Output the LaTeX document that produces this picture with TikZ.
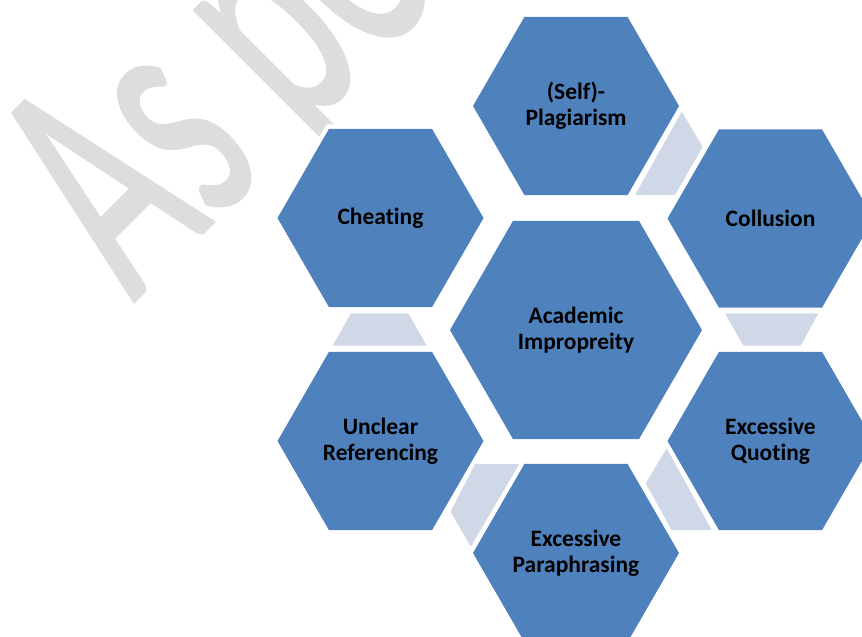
\documentclass[tikz,border=0pt]{standalone}
\usepackage{fontspec}
\setmainfont{Carlito}[Ligatures=NoCommon,Contextuals=NoAlternate]
\newfontfamily\wmfont{Carlito}[FakeBold=1.2]
\usepackage{graphicx}
\definecolor{hexblue}{RGB}{79,129,189}
\definecolor{conn}{RGB}{208,216,232}
\definecolor{wmgray}{RGB}{221,221,221}
\newcommand\myhex[3]{\fill[#3] (#1) +(0:#2) -- +(60:#2) -- +(120:#2) -- +(180:#2) -- +(240:#2) -- +(300:#2) -- cycle;}
\begin{document}
\begin{tikzpicture}[x=1pt,y=-1pt,
  lbl/.style={font=\fontsize{23.5}{26}\selectfont\bfseries, align=center, text=black, inner sep=0pt},
  hexfill/.style={fill=hexblue},
  gapfill/.style={fill=white},
  arrowfill/.style={fill=conn}]
\useasboundingbox (0,0) rectangle (862,637);
\clip (0,0) rectangle (862,637);
% watermark
\node[rotate=45, anchor=base west, inner sep=0pt, text=wmgray, font=\wmfont\fontsize{340}{340}\selectfont] (wm) at (133,302) {\scalebox{0.58}[1]{As per}};
% centres
\coordinate (cC) at (576,330);
\coordinate (cP) at (576,106);
\coordinate (cCo) at (770.5,218.5);
\coordinate (cQ) at (770.5,441);
\coordinate (cPa) at (576,553);
\coordinate (cU) at (380.5,441);
\coordinate (cCh) at (380.5,218);
% white rims
\myhex{cC}{131}{gapfill}
\myhex{cP}{108}{gapfill}
\myhex{cCo}{108}{gapfill}
\myhex{cQ}{108}{gapfill}
\myhex{cPa}{108}{gapfill}
\myhex{cU}{108}{gapfill}
\myhex{cCh}{108}{gapfill}
% connector shapes
\fill[arrowfill] (681.7,111.7) -- (702.7,146.7) -- (675,195) -- (635,195) -- cycle;
\fill[arrowfill] (725,313.3) -- (818.3,313.3) -- (800.7,345.7) -- (743.3,345.7) -- cycle;
\fill[arrowfill] (666.7,448.3) -- (711.7,530) -- (671.7,530) -- (645.7,483.3) -- cycle;
\fill[arrowfill] (475,464) -- (519.3,464) -- (470.7,546.7) -- (450.7,511.7) -- cycle;
\fill[arrowfill] (351,313.3) -- (408.3,313.3) -- (426.7,345.7) -- (332.7,345.7) -- cycle;
% hexagons
\myhex{cC}{126}{hexfill}
\myhex{cP}{103}{hexfill}
\myhex{cCo}{103}{hexfill}
\myhex{cQ}{103}{hexfill}
\myhex{cPa}{103}{hexfill}
\myhex{cU}{103}{hexfill}
\myhex{cCh}{103}{hexfill}
% labels
\node[lbl] (center) at (cC) {Academic\\Impropreity};
\node[lbl] (plag) at (cP) {(Self)-\\Plagiarism};
\node[lbl] (coll) at (cCo) {Collusion};
\node[lbl] (quot) at (cQ) {Excessive\\Quoting};
\node[lbl] (para) at (cPa) {Excessive\\Paraphrasing};
\node[lbl] (uncl) at (cU) {Unclear\\Referencing};
\node[lbl] (cheat) at (cCh) {Cheating};
\end{tikzpicture}
\end{document}
